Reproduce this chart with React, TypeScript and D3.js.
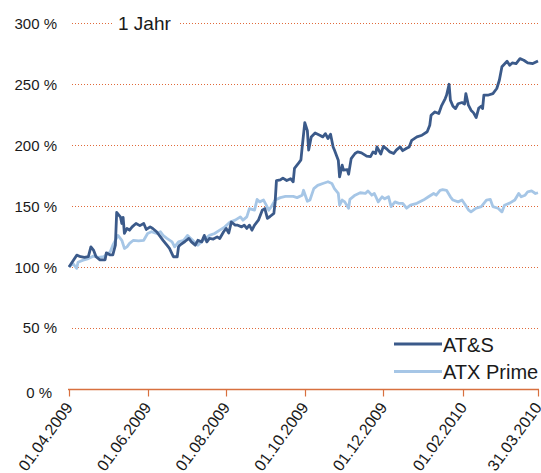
import React, { useEffect, useRef } from 'react';
import * as d3 from 'd3';

// Wertentwicklung in % (Basis 01.04.2009 = 100 %)
const atsDates = [
  '2009-04-01', '2009-04-07', '2009-04-10', '2009-04-13', '2009-04-16', '2009-04-18', '2009-04-20', '2009-04-22',
  '2009-04-25', '2009-04-29', '2009-04-30', '2009-05-03', '2009-05-05', '2009-05-07', '2009-05-08', '2009-05-11',
  '2009-05-12', '2009-05-13', '2009-05-14', '2009-05-16', '2009-05-18', '2009-05-20', '2009-05-23', '2009-05-26',
  '2009-05-29', '2009-05-31', '2009-06-03', '2009-06-05', '2009-06-08', '2009-06-11', '2009-06-13', '2009-06-16',
  '2009-06-18', '2009-06-21', '2009-06-24', '2009-06-25', '2009-06-26', '2009-06-30', '2009-07-03', '2009-07-05',
  '2009-07-08', '2009-07-10', '2009-07-13', '2009-07-15', '2009-07-17', '2009-07-19', '2009-07-22', '2009-07-25',
  '2009-07-27', '2009-07-30', '2009-08-01', '2009-08-03', '2009-08-05', '2009-08-08', '2009-08-10', '2009-08-13',
  '2009-08-15', '2009-08-17', '2009-08-19', '2009-08-21', '2009-08-23', '2009-08-26', '2009-08-29', '2009-08-31',
  '2009-09-02', '2009-09-04', '2009-09-07', '2009-09-08', '2009-09-09', '2009-09-12', '2009-09-14', '2009-09-17',
  '2009-09-20', '2009-09-22', '2009-09-23', '2009-09-26', '2009-09-28', '2009-09-29', '2009-10-01', '2009-10-03',
  '2009-10-04', '2009-10-06', '2009-10-09', '2009-10-13', '2009-10-15', '2009-10-17', '2009-10-19', '2009-10-21',
  '2009-10-23', '2009-10-24', '2009-10-27', '2009-10-28', '2009-10-30', '2009-10-31', '2009-11-03', '2009-11-04',
  '2009-11-06', '2009-11-09', '2009-11-11', '2009-11-14', '2009-11-18', '2009-11-21', '2009-11-23', '2009-11-25',
  '2009-11-26', '2009-11-29', '2009-12-01', '2009-12-04', '2009-12-06', '2009-12-09', '2009-12-11', '2009-12-14',
  '2009-12-16', '2009-12-19', '2009-12-21', '2009-12-23', '2009-12-27', '2009-12-31', '2010-01-04', '2010-01-06',
  '2010-01-07', '2010-01-10', '2010-01-13', '2010-01-15', '2010-01-18', '2010-01-19', '2010-01-21', '2010-01-22',
  '2010-01-24', '2010-01-26', '2010-01-28', '2010-01-31', '2010-02-02', '2010-02-03', '2010-02-05', '2010-02-07',
  '2010-02-09', '2010-02-11', '2010-02-13', '2010-02-15', '2010-02-16', '2010-02-17', '2010-02-20', '2010-02-24',
  '2010-02-27', '2010-03-01', '2010-03-03', '2010-03-07', '2010-03-09', '2010-03-11', '2010-03-14', '2010-03-17',
  '2010-03-20', '2010-03-23', '2010-03-27', '2010-03-31'
];
const atsValues = [
  100, 109.8, 108.5, 108, 108.5, 116.6, 114, 108.5,
  106, 106, 111.7, 110, 110, 118, 144.8, 141,
  135.8, 140.7, 127.6, 131.7, 130.3, 133, 135.8, 134,
  135.8, 130.9, 133, 131.7, 129, 124.8, 122, 118,
  115.3, 108.5, 108.5, 116.6, 118, 121, 123.5, 120.7,
  118, 122, 120.7, 126, 120.7, 123.5, 123, 124.8,
  123.5, 129, 131.7, 128, 137, 134.4, 134.4, 133,
  134.4, 131.7, 134.4, 130.3, 134.4, 138.5, 146.7, 148,
  140, 141.5, 144, 153.5, 171, 171.5, 173, 171,
  172.5, 170, 181, 185, 188, 198.6, 218.5, 212,
  196, 206.8, 210, 208, 206.8, 209.5, 205.5, 209,
  198.6, 196, 187.7, 174, 183.6, 179.5, 180, 176.2,
  189, 193.2, 194.5, 193.7, 191, 190.6, 194.5, 193.2,
  198.6, 192.8, 199, 196.5, 194.5, 193.2, 196, 198.6,
  195.5, 197.5, 198.6, 204, 206.8, 208.2, 211, 216.4,
  224.6, 227.3, 226, 232, 238.3, 241, 250, 237,
  232, 230, 234, 235, 233.7, 242.3, 232.8, 228.7,
  226.5, 222.7, 230.5, 232, 230, 241, 241, 242.3,
  246.5, 253.3, 264.3, 268.8, 265.6, 267.5, 267, 271,
  269.7, 267.5, 267, 269
];

const atxDates = [
  '2009-04-01', '2009-04-04', '2009-04-07', '2009-04-08', '2009-04-12', '2009-04-16', '2009-04-20', '2009-04-24',
  '2009-04-28', '2009-05-03', '2009-05-05', '2009-05-07', '2009-05-09', '2009-05-12', '2009-05-14', '2009-05-16',
  '2009-05-18', '2009-05-21', '2009-05-25', '2009-05-29', '2009-06-01', '2009-06-04', '2009-06-08', '2009-06-11',
  '2009-06-13', '2009-06-16', '2009-06-20', '2009-06-22', '2009-06-25', '2009-06-29', '2009-07-02', '2009-07-06',
  '2009-07-10', '2009-07-14', '2009-07-19', '2009-07-23', '2009-07-27', '2009-07-31', '2009-08-04', '2009-08-08',
  '2009-08-12', '2009-08-14', '2009-08-17', '2009-08-19', '2009-08-23', '2009-08-25', '2009-08-27', '2009-08-30',
  '2009-09-01', '2009-09-03', '2009-09-05', '2009-09-08', '2009-09-12', '2009-09-16', '2009-09-18', '2009-09-22',
  '2009-09-25', '2009-09-29', '2009-09-30', '2009-10-03', '2009-10-05', '2009-10-08', '2009-10-11', '2009-10-15',
  '2009-10-19', '2009-10-22', '2009-10-24', '2009-10-27', '2009-10-28', '2009-10-30', '2009-11-01', '2009-11-04',
  '2009-11-05', '2009-11-09', '2009-11-13', '2009-11-17', '2009-11-19', '2009-11-22', '2009-11-24', '2009-11-27',
  '2009-11-30', '2009-12-02', '2009-12-05', '2009-12-07', '2009-12-10', '2009-12-13', '2009-12-16', '2009-12-19',
  '2009-12-22', '2009-12-27', '2010-01-01', '2010-01-05', '2010-01-09', '2010-01-11', '2010-01-14', '2010-01-16',
  '2010-01-19', '2010-01-22', '2010-01-24', '2010-01-28', '2010-01-31', '2010-02-02', '2010-02-05', '2010-02-07',
  '2010-02-11', '2010-02-15', '2010-02-19', '2010-02-22', '2010-02-24', '2010-02-28', '2010-03-03', '2010-03-05',
  '2010-03-09', '2010-03-13', '2010-03-16', '2010-03-18', '2010-03-21', '2010-03-23', '2010-03-26', '2010-03-29',
  '2010-03-31'
];
const atxValues = [
  100, 103, 99, 104, 105.7, 107, 109, 108,
  108.5, 112.5, 118, 122, 126, 122, 115.3, 116.6,
  119.4, 122, 121.5, 122, 127.6, 129, 127.6, 129,
  126, 123.5, 120.7, 116.6, 120.7, 122, 126, 122,
  118, 122, 126, 127.6, 130.3, 133, 137, 138.5,
  141.2, 138.5, 141.2, 148, 146.7, 155.5, 153.5, 155,
  151, 146.7, 149.5, 155, 157, 158, 158, 158,
  157, 159, 163, 154, 155, 164.4, 167, 168.6,
  170, 168.6, 164.4, 160.4, 150.8, 155, 153.5, 148.3,
  155.5, 159, 161, 160.4, 162.5, 159, 160.4, 153.5,
  157.7, 156, 157.7, 149.6, 153.5, 152.3, 152.3, 148.3,
  150.8, 152.3, 155, 157.7, 160.4, 159, 163, 163.5,
  163, 157.7, 155, 153.5, 155, 152, 147, 145.3,
  148.3, 149.6, 155, 155.5, 149.6, 148.3, 145.3, 150.8,
  152.5, 155, 160.4, 157.7, 159, 161.8, 162.5, 160.4,
  161
];

const yTicks = [0, 50, 100, 150, 200, 250, 300];
const xTickDates = ['2009-04-01', '2009-06-01', '2009-08-01', '2009-10-01', '2009-12-01', '2010-02-01', '2010-03-31'];

const seriesNames = ['AT&S', 'ATX Prime'];
const seriesColors = ['#3b5a8a', '#a6c6e6'];

const FONT = '"Liberation Sans", Arial, sans-serif';

const Chart = ({ width = 541, height = 473 }) => {
  const svgRef = useRef(null);

  useEffect(() => {
    const svg = d3.select(svgRef.current);
    svg.selectAll('*').remove();
    svg.attr('width', width).attr('height', height);

    const parse = d3.timeParse('%Y-%m-%d');
    const fmt = d3.timeFormat('%d.%m.%Y');

    const ats = atsDates.map((d, i) => ({ date: parse(d), value: atsValues[i] }));
    const atx = atxDates.map((d, i) => ({ date: parse(d), value: atxValues[i] }));
    const ticks = xTickDates.map(parse);

    const xScale = d3.scaleTime()
      .domain([parse('2009-04-01'), parse('2010-03-31')])
      .range([69, 538]);

    const yScale = d3.scaleLinear()
      .domain([0, 300])
      .range([389, 23.3]);

    // Gridlines (dotted)
    svg.append('g')
      .selectAll('line')
      .data(yTicks.filter(t => t > 0))
      .enter()
      .append('line')
      .attr('x1', 72)
      .attr('x2', 539)
      .attr('y1', d => Math.round(yScale(d)) + 0.5)
      .attr('y2', d => Math.round(yScale(d)) + 0.5)
      .attr('stroke', '#e06a3a')
      .attr('stroke-width', 1)
      .attr('stroke-dasharray', '1,2');

    // Y labels
    svg.append('g')
      .selectAll('text')
      .data(yTicks)
      .enter()
      .append('text')
      .attr('x', d => (d === 0 ? 52 : 57))
      .attr('y', d => yScale(d) + (d === 0 ? 4 : 0))
      .attr('dy', '0.36em')
      .attr('text-anchor', 'end')
      .style('font-family', FONT)
      .style('font-size', '15px')
      .style('fill', '#1a1a1a')
      .text(d => `${d} %`);

    // Title label with white box over the top gridline
    svg.append('rect')
      .attr('x', 112)
      .attr('y', 14)
      .attr('width', 67)
      .attr('height', 20)
      .attr('fill', 'white');
    svg.append('text')
      .attr('x', 118)
      .attr('y', 30)
      .style('font-family', FONT)
      .style('font-size', '19px')
      .style('fill', '#1a1a1a')
      .text('1 Jahr');

    // X axis
    const axisY = Math.round(yScale(0)) + 0.5;
    svg.append('line')
      .attr('x1', 68)
      .attr('x2', 539)
      .attr('y1', axisY)
      .attr('y2', axisY)
      .attr('stroke', '#d8703f')
      .attr('stroke-width', 1.6);

    svg.append('g')
      .selectAll('line')
      .data(ticks)
      .enter()
      .append('line')
      .attr('x1', d => Math.round(xScale(d)) + 0.5)
      .attr('x2', d => Math.round(xScale(d)) + 0.5)
      .attr('y1', axisY)
      .attr('y2', axisY + 7)
      .attr('stroke', '#d8703f')
      .attr('stroke-width', 1.2);

    svg.append('g')
      .selectAll('text')
      .data(ticks)
      .enter()
      .append('text')
      .attr('transform', d => `translate(${xScale(d) + 4.5},407.5) rotate(-54)`)
      .attr('text-anchor', 'end')
      .style('font-family', FONT)
      .style('font-size', '16px')
      .style('fill', '#1a1a1a')
      .text(d => fmt(d));

    // Lines
    const line = d3.line()
      .x(d => xScale(d.date))
      .y(d => yScale(d.value));

    [atx, ats].forEach((data, i) => {
      svg.append('path')
        .datum(data)
        .attr('fill', 'none')
        .attr('stroke', seriesColors[1 - i])
        .attr('stroke-width', 2.8)
        .attr('stroke-linejoin', 'round')
        .attr('d', line);
    });

    // Legend
    const legend = svg.append('g');
    seriesNames.forEach((name, i) => {
      const ly = 344 + i * 27.5;
      legend.append('line')
        .attr('x1', 394)
        .attr('x2', 442)
        .attr('y1', ly)
        .attr('y2', ly)
        .attr('stroke', seriesColors[i])
        .attr('stroke-width', 2.8);
      legend.append('text')
        .attr('x', 443)
        .attr('y', ly + 7.5)
        .style('font-family', FONT)
        .style('font-size', '20px')
        .style('fill', '#1a1a1a')
        .text(name);
    });
  }, [width, height]);

  return <svg ref={svgRef} style={{ position: 'absolute', left: 0, top: 0 }}></svg>;
};

export default function App() {
  return (
    <div>
      <Chart />
    </div>
  );
}
